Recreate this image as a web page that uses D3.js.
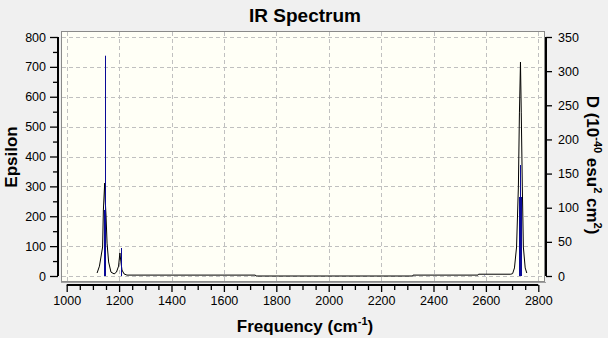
<!DOCTYPE html>
<html>
<head>
<meta charset="utf-8">
<script src="https://cdn.jsdelivr.net/npm/d3@7"></script>
<style>
body { margin:0; background:#f0f0f0; }
svg { display:block; font-family:"Liberation Sans", Arial, sans-serif; }
</style>
</head>
<body>
<script>

// data
var curveFreq = [1116,1125,1137,1140,1145,1147,1150,1154,1160,1169,1181,1190,1198,1203,1207,1211,1219,1230,1720,1722,2320,2322,2570,2572,2695,2702,2709,2717,2724,2728,2732,2735,2739,2743,2750,2756];
var curveEps  = [10,33,97,221,311,254,204,110,47,13,7,13,33,77,47,20,7,3,3,0,0,3,3,6,6,8,27,97,298,546,716,546,298,97,27,10];

var stickFreq = [1142,1146,1206,2594,2726,2730,2733];
var stickD    = [96.7,322.6,41,0.5,115.7,162.5,115.7];

var xTicks = [1000,1200,1400,1600,1800,2000,2200,2400,2600,2800];
var yLeftTicks = [0,100,200,300,400,500,600,700,800];
var yRightTicks = [0,50,100,150,200,250,300,350];

// sizes
var canvasWidth = 608;
var canvasHeight = 338;
var colorBlack = '#000000';
var colorStick = '#0a0a96';
var colorGrid = '#c0c0c0';

var svg = d3.select('body').append('svg')
            .attr('width',canvasWidth)
            .attr('height',canvasHeight);

var x = d3.scaleLinear().domain([1000,2800]).range([66.7,538.3]);
var yLeft = d3.scaleLinear().domain([0,800]).range([276,37]);
var yRight = d3.scaleLinear().domain([0,350]).range([276,37]);

// plot box
svg.append('rect')
   .attr('x',61.5)
   .attr('y',31.5)
   .attr('width',483)
   .attr('height',250)
   .attr('fill','#fffff6')
   .attr('stroke','#8a8a8a')
   .attr('stroke-width',1);
svg.append('line')
   .attr('x1',61).attr('x2',546)
   .attr('y1',282.5).attr('y2',282.5)
   .attr('stroke','#a0a0a0');

// grid
svg.selectAll('.gx').data(xTicks).enter().append('line')
   .attr('x1',function(d){ return Math.round(x(d))+0.5 })
   .attr('x2',function(d){ return Math.round(x(d))+0.5 })
   .attr('y1',32).attr('y2',281)
   .attr('stroke',colorGrid)
   .attr('stroke-dasharray','4,3');
svg.selectAll('.gy').data(yLeftTicks).enter().append('line')
   .attr('x1',62).attr('x2',544)
   .attr('y1',function(d){ return Math.round(yLeft(d))+0.5 })
   .attr('y2',function(d){ return Math.round(yLeft(d))+0.5 })
   .attr('stroke',colorGrid)
   .attr('stroke-dasharray','4,3');

// curve
var line = d3.line()
             .x(function(d,i){ return x(curveFreq[i]) })
             .y(function(d,i){ return yLeft(curveEps[i]) });
svg.append('path')
   .datum(curveEps)
   .attr('d',line)
   .attr('fill','none')
   .attr('stroke',colorBlack)
   .attr('stroke-width',1);

// sticks
svg.selectAll('.stick').data(stickD).enter().append('line')
   .attr('x1',function(d,i){ return Math.round(x(stickFreq[i]))+0.5 })
   .attr('x2',function(d,i){ return Math.round(x(stickFreq[i]))+0.5 })
   .attr('y1',yRight(0))
   .attr('y2',function(d){ return yRight(d) })
   .attr('stroke',colorStick)
   .attr('stroke-width',1);

// left axis
var axisLeft = d3.axisLeft(yLeft)
                 .tickValues(d3.range(0,801,50))
                 .tickSize(8)
                 .tickFormat(function(d){ return d%100===0 ? d : '' });
var gLeft = svg.append('g')
               .attr('transform','translate(58,0)')
               .call(axisLeft);
gLeft.selectAll('.tick line')
     .attr('x2',function(d){ return d%100===0 ? -8 : -5 });

// right axis
var axisRight = d3.axisRight(yRight)
                  .tickValues(yRightTicks)
                  .tickSize(6);
var gRight = svg.append('g')
                .attr('transform','translate(546,0)')
                .call(axisRight);

// bottom axis
var axisBottom = d3.axisBottom(x)
                   .tickValues(d3.range(1000,2801,50))
                   .tickSize(7)
                   .tickFormat(function(d){ return d%200===0 ? d : '' });
var gBottom = svg.append('g')
                 .attr('transform','translate(0,285)')
                 .call(axisBottom);
gBottom.selectAll('.tick line')
       .attr('y2',function(d){ return d%200===0 ? 7 : 5 });

[gLeft,gRight,gBottom].forEach(function(g){
  g.select('.domain').attr('stroke',colorBlack).attr('stroke-width',2);
  g.selectAll('.tick line').attr('stroke',colorBlack).attr('stroke-width',1.3);
  g.selectAll('.tick text')
   .style('font-size','12.5px')
   .style('font-family','"Liberation Sans", Arial, sans-serif')
   .attr('fill','#000');
});
gLeft.select('.domain').attr('d','M0,37V276');
gRight.select('.domain').attr('d','M0,37V276');
gBottom.select('.domain').attr('d','M66.7,0H538.3');
gBottom.selectAll('.tick text').attr('y',11);
gLeft.selectAll('.tick text').attr('x',-12);
gRight.selectAll('.tick text').attr('x',12);

// titles
svg.append('text')
   .text('IR Spectrum')
   .attr('x',305)
   .attr('y',22)
   .attr('text-anchor','middle')
   .style('font-size','19px')
   .style('font-weight','bold');

svg.append('text')
   .text('Epsilon')
   .attr('transform','translate(17,157) rotate(-90)')
   .attr('text-anchor','middle')
   .style('font-size','17px')
   .style('font-weight','bold');

var xTitle = svg.append('text')
                .attr('x',305)
                .attr('y',332)
                .attr('text-anchor','middle')
                .style('font-size','17px')
                .style('font-weight','bold');
xTitle.append('tspan').text('Frequency (cm');
xTitle.append('tspan').text('-1').attr('dy',-7).style('font-size','11px');
xTitle.append('tspan').text(')').attr('dy',7);

var rTitle = svg.append('text')
                .attr('transform','translate(587,165) rotate(90)')
                .attr('text-anchor','middle')
                .style('font-size','17px')
                .style('font-weight','bold');
rTitle.append('tspan').text('D (10');
rTitle.append('tspan').text('-40').attr('dy',-7).style('font-size','11px');
rTitle.append('tspan').text(' esu').attr('dy',7);
rTitle.append('tspan').text('2').attr('dy',-7).style('font-size','11px');
rTitle.append('tspan').text(' cm').attr('dy',7);
rTitle.append('tspan').text('2').attr('dy',-7).style('font-size','11px');
rTitle.append('tspan').text(')').attr('dy',7);

</script>
</body>
</html>
